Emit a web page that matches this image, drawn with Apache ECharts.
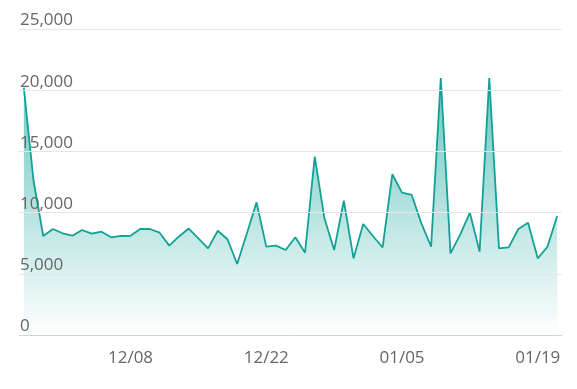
<!DOCTYPE html>
<html><head><meta charset="utf-8">
<script src="https://cdn.jsdelivr.net/npm/echarts@6/dist/echarts.min.js"></script>
<style>html,body{margin:0;padding:0;background:#fff}#c{width:577px;height:389px}</style>
</head><body><div id="c"></div>
<script>
// dates 11/27 .. 01/21
const dates = [
 "11/27","11/28","11/29","11/30",
 "12/01","12/02","12/03","12/04","12/05","12/06","12/07","12/08","12/09","12/10","12/11","12/12","12/13","12/14","12/15","12/16","12/17","12/18","12/19","12/20","12/21","12/22","12/23","12/24","12/25","12/26","12/27","12/28","12/29","12/30","12/31",
 "01/01","01/02","01/03","01/04","01/05","01/06","01/07","01/08","01/09","01/10","01/11","01/12","01/13","01/14","01/15","01/16","01/17","01/18","01/19","01/20","01/21"
];
const values = [
 20200,12600,8090,8660,8310,8110,8580,8280,8440,7980,8090,8110,8660,8660,8360,7300,8050,8700,7900,7080,
 8520,7820,5800,8300,10840,7220,7300,6940,7980,6720,14570,9530,6940,10970,6260,9070,8090,7150,13130,11630,
 11440,9120,7210,21000,6670,8200,9990,6810,21000,7080,7160,8660,9170,6260,7210,9720
];
const yTicks = {min:0, max:25000, interval:5000};
const labelFont = "'Open Sans', 'DejaVu Sans', sans-serif";
const chart = echarts.init(document.getElementById('c'));
chart.setOption({
  animation:false,
  grid:{left:19,right:15,top:29,bottom:54},
  xAxis:{
    type:'category', data:dates, boundaryGap:true, z:5,
    axisLine:{lineStyle:{color:'#ccd6eb'}},
    axisTick:{alignWithLabel:true,length:12,lineStyle:{color:'#ccd6eb'},interval:(i)=>i%14===11},
    axisLabel:{interval:(i)=>i%14===11,color:'#666',fontSize:17,fontFamily:labelFont,margin:15}
  },
  yAxis:{
    type:'value', min:yTicks.min, max:yTicks.max, interval:yTicks.interval, z:5,
    axisLine:{show:false}, axisTick:{show:false},
    splitLine:{lineStyle:{color:'#e6e6e6'}},
    axisLabel:{inside:true,margin:1,verticalAlign:'bottom',lineHeight:17,color:'#666',fontSize:17,fontFamily:labelFont,
      formatter:(v)=>v.toLocaleString('en-US')}
  },
  series:[{
    type:'line', data:values, symbol:'none', z:2,
    lineStyle:{color:'#13a096',width:1.8},
    itemStyle:{color:'#13a096'},
    areaStyle:{color:new echarts.graphic.LinearGradient(0,0,0,1,[
      {offset:0,color:'rgba(20,166,155,0.9)'},
      {offset:1,color:'rgba(255,255,255,0.95)'}
    ])}
  }]
});
</script></body></html>
